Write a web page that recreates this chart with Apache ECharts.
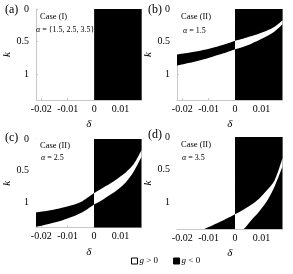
<!DOCTYPE html>
<html><head><meta charset="utf-8">
<script src="https://cdn.jsdelivr.net/npm/echarts@6/dist/echarts.min.js"></script>
<style>html,body{margin:0;padding:0;background:#fff}#c{width:293px;height:274px}</style>
</head><body><div id="c"></div>
<script>
// ---- data ----
const deltaRange = [-0.022, 0.018];
const kRange = [0, 1.4];
const xTickValues = [-0.02, -0.01, 0, 0.01];
const xTickLabels = ['-0.02', '-0.01', '0', '0.01'];
const yTickValues = [0, 0.5, 1];
const yTickLabels = ['0', '0.5', '1'];
const signChangeDelta = 0;

const deltaLeft = [-0.022, -0.0176, -0.0132, -0.0088, -0.0044, 0];
const deltaRight = [0, 0.003, 0.006, 0.009, 0.012, 0.015, 0.018];

// alpha = 1.5 (panel b)
const bUpperLeft  = [0.701, 0.674, 0.642, 0.600, 0.550, 0.487];
const bLowerLeft  = [0.868, 0.830, 0.787, 0.738, 0.682, 0.618];
const bUpperRight = [0.487, 0.457, 0.421, 0.381, 0.335, 0.274, 0.173];
const bLowerRight = [0.618, 0.584, 0.538, 0.482, 0.421, 0.345, 0.234];
// alpha = 2.5 (panel c)
const cUpperLeft  = [1.162, 1.136, 1.099, 1.051, 0.983, 0.856];
const cLowerLeft  = [1.389, 1.347, 1.300, 1.236, 1.157, 1.035];
const cUpperRight = [0.856, 0.782, 0.708, 0.623, 0.528, 0.401, 0.174];
const cLowerRight = [1.035, 0.967, 0.887, 0.798, 0.687, 0.518, 0.280];
// alpha = 3.5 (panel d)
const dUpperLeft  = [1.645, 1.543, 1.431, 1.349, 1.268, 1.176];
const dLowerLeft  = [1.780, 1.720, 1.660, 1.600, 1.530, 1.466];
const dUpperRight = [1.176, 1.110, 1.034, 0.942, 0.815, 0.662, 0.321];
const dLowerRight = [1.466, 1.410, 1.273, 1.141, 0.983, 0.754, 0.448];

const panelLetters = ['(a)', '(b)', '(c)', '(d)'];
const caseNames = ['Case (I)', 'Case (II)', 'Case (II)', 'Case (II)'];
const alphaTexts = ['{1.5, 2.5, 3.5}', '1.5', '2.5', '3.5'];
const legendNames = ['g > 0', 'g < 0'];

// ---- layout ----
const FONT = "'Liberation Serif', 'Times New Roman', serif";
const grids = [
  {left: 36, top: 9, width: 105.7, height: 91},
  {left: 177, top: 9, width: 105.5, height: 91},
  {left: 36, top: 139, width: 105.5, height: 88.5},
  {left: 177, top: 137, width: 105.5, height: 92}
];
const bands = [
  null,
  [bUpperLeft, bLowerLeft, bUpperRight, bLowerRight],
  [cUpperLeft, cLowerLeft, cUpperRight, cLowerRight],
  [dUpperLeft, dLowerLeft, dUpperRight, dLowerRight]
];

function lab(values, labels) {
  return v => { const i = values.findIndex(t => Math.abs(t - v) < 1e-9); return i >= 0 ? labels[i] : ''; };
}
const axisGray = '#c8c8c8';
const xAxes = grids.map((g, i) => ({
  gridIndex: i, type: 'value', min: deltaRange[0], max: deltaRange[1],
  axisLine: {show: true, onZero: false, lineStyle: {color: axisGray, width: 1}},
  axisTick: {show: true, inside: true, length: 2, customValues: xTickValues, lineStyle: {color: axisGray}},
  axisLabel: {customValues: xTickValues, formatter: lab(xTickValues, xTickLabels), margin: 4,
    color: '#000', fontFamily: FONT, fontSize: 10},
  splitLine: {show: false},
  name: 'δ', nameLocation: 'middle', nameGap: 19,
  nameTextStyle: {fontStyle: 'italic', fontFamily: FONT, fontSize: 11, color: '#000'}
}));
const yAxes = grids.map((g, i) => ({
  gridIndex: i, type: 'value', min: kRange[0], max: kRange[1], inverse: true,
  axisLine: {show: true, onZero: false, lineStyle: {color: axisGray, width: 1}},
  axisTick: {show: true, inside: true, length: 2, customValues: yTickValues, lineStyle: {color: axisGray}},
  axisLabel: {customValues: yTickValues, formatter: lab(yTickValues, yTickLabels), margin: 7,
    color: '#000', fontFamily: FONT, fontSize: 10},
  splitLine: {show: false},
  name: 'k', nameLocation: 'middle', nameGap: 18,
  nameTextStyle: {fontStyle: 'italic', fontFamily: FONT, fontSize: 11, color: '#000'}
}));

function areaSeries(i, name, deltas, ks, color) {
  return {
    type: 'line', name, xAxisIndex: i, yAxisIndex: i,
    data: deltas.map((d, j) => [d, ks[j]]),
    symbol: 'none', smooth: 0.3,
    lineStyle: {width: 0, color},
    itemStyle: {color},
    areaStyle: {color, opacity: 1, origin: 'start'},
    silent: true, clip: true
  };
}

const series = [];
grids.forEach((g, i) => {
  series.push({
    type: 'line', name: legendNames[1], xAxisIndex: i, yAxisIndex: i, data: [],
    itemStyle: {color: '#000'}, lineStyle: {color: '#000'},
    markArea: {silent: true, itemStyle: {color: '#000', opacity: 1, borderWidth: 0},
      data: [[{xAxis: signChangeDelta, yAxis: kRange[0]}, {xAxis: deltaRange[1], yAxis: kRange[1]}]]}
  });
  const b = bands[i];
  if (b) {
    series.push(areaSeries(i, legendNames[1], deltaLeft, b[1], '#000'));
    series.push(areaSeries(i, legendNames[0], deltaLeft, b[0], '#fff'));
    series.push(areaSeries(i, legendNames[0], deltaRight, b[3], '#fff'));
    series.push(areaSeries(i, legendNames[1], deltaRight, b[2], '#000'));
  }
});

const graphics = [];
const letterPos = [[5, 10], [148, 10], [5, 137.5], [148, 135]];
const casePos = [[40, 16.7, 36, 30], [181, 16.7, 183, 31], [40, 145.7, 41, 158.3], [181, 145, 182, 158.3]];
grids.forEach((g, i) => {
  graphics.push({type: 'text', x: letterPos[i][0], y: letterPos[i][1], silent: true,
    style: {text: panelLetters[i], fontFamily: FONT, fontSize: 12, fill: '#000', verticalAlign: 'middle'}});
  graphics.push({type: 'text', x: casePos[i][0], y: casePos[i][1], silent: true, z: 10,
    style: {text: caseNames[i], fontFamily: FONT, fontSize: 8.5, fill: '#000', verticalAlign: 'middle'}});
  graphics.push({type: 'text', x: casePos[i][2], y: casePos[i][3], silent: true, z: 10,
    style: {text: '{i|α} = ' + alphaTexts[i], fontFamily: FONT, fontSize: 8, fill: '#000', verticalAlign: 'middle',
      rich: {i: {fontStyle: 'italic', fontFamily: FONT, fontSize: 8, fill: '#000'}}}});
});

const chart = echarts.init(document.getElementById('c'), null, {renderer: 'canvas'});
chart.setOption({
  animation: false,
  backgroundColor: '#fff',
  grid: grids,
  xAxis: xAxes,
  yAxis: yAxes,
  series,
  graphic: graphics,
  legend: {
    left: 126, top: 251.5, icon: 'rect', itemWidth: 6, itemHeight: 6, itemGap: 15,
    selectedMode: false,
    data: [
      {name: legendNames[0], itemStyle: {color: '#fff', borderColor: '#000', borderWidth: 1}},
      {name: legendNames[1], itemStyle: {color: '#000', borderColor: '#000', borderWidth: 1}}
    ],
    formatter: n => '{i|' + n.charAt(0) + '}' + n.slice(1),
    textStyle: {fontFamily: FONT, fontSize: 9, color: '#000', padding: [0, 0, 0, -3],
      rich: {i: {fontStyle: 'italic', fontFamily: FONT, fontSize: 9, color: '#000'}}}
  }
});
</script></body></html>
